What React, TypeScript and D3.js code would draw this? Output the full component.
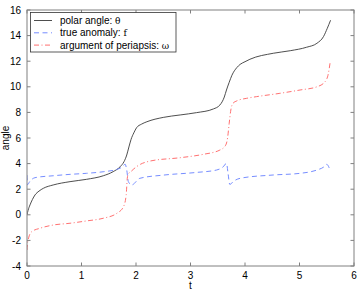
import React from "react";
import * as d3 from "d3";

const xTicks = [0, 1, 2, 3, 4, 5, 6];
const yTicks = [-4, -2, 0, 2, 4, 6, 8, 10, 12, 14, 16];

const tTheta = [0, 0.02, 0.055, 0.1, 0.147, 0.22, 0.3, 0.48, 0.79, 1.09, 1.4, 1.58, 1.71, 1.78, 1.83, 1.87, 1.91, 1.96, 2.01, 2.1, 2.2, 2.5, 2.81, 3.11, 3.42, 3.54, 3.62, 3.66, 3.71, 3.76, 3.85, 3.91, 4.0, 4.09, 4.52, 4.83, 5.13, 5.32, 5.44, 5.51, 5.57];
const theta = [0, 0.35, 0.77, 1.2, 1.55, 1.85, 2.07, 2.33, 2.59, 2.77, 3.05, 3.37, 3.76, 4.15, 4.67, 5.3, 5.9, 6.4, 6.8, 7.08, 7.27, 7.61, 7.8, 7.98, 8.27, 8.58, 9.2, 9.75, 10.35, 10.9, 11.5, 11.75, 11.96, 12.15, 12.62, 12.82, 13.09, 13.4, 13.92, 14.57, 15.2];

const tF = [0, 0.01, 0.05, 0.147, 0.48, 0.79, 1.09, 1.41, 1.65, 1.75, 1.8, 1.83, 1.86, 1.92, 2.07, 2.5, 3.11, 3.48, 3.6, 3.66, 3.69, 3.72, 3.8, 3.91, 4.52, 5.01, 5.32, 5.45, 5.5, 5.56];
const fVals = [3.1, 2.35, 2.6, 2.9, 3.05, 3.16, 3.24, 3.37, 3.55, 3.75, 3.95, 3.5, 2.59, 2.33, 2.85, 3.1, 3.31, 3.5, 3.75, 4.02, 3.2, 2.38, 2.65, 2.85, 3.11, 3.24, 3.5, 3.75, 3.94, 3.5];

const tOmega = [0, 0.01, 0.03, 0.086, 0.24, 0.48, 0.79, 1.09, 1.4, 1.65, 1.77, 1.82, 1.84, 1.86, 1.9, 1.95, 2.01, 2.26, 2.81, 3.23, 3.54, 3.64, 3.68, 3.71, 3.74, 3.78, 3.85, 4.03, 4.21, 4.64, 5.01, 5.32, 5.47, 5.53, 5.56];
const omega = [-2.75, -2.2, -1.8, -1.32, -1.05, -0.8, -0.66, -0.48, -0.27, 0.12, 0.63, 1.55, 2.85, 3.2, 3.35, 3.55, 3.76, 4.2, 4.46, 4.72, 5.06, 5.4, 6.0, 7.15, 8.19, 8.71, 8.9, 9.1, 9.23, 9.49, 9.75, 10.0, 10.4, 11.05, 11.84];

const W = 360;
const H = 292;
const L = 27, R = 354, T = 10, B = 266;

export default function App() {
  const x = d3.scaleLinear().domain([0, 6]).range([L, R]);
  const y = d3.scaleLinear().domain([-4, 16]).range([B, T]);
  const line = d3
    .line<[number, number]>()
    .x((d) => x(d[0]))
    .y((d) => y(d[1]))
    .curve(d3.curveMonotoneX);
  const zip = (a: number[], b: number[]) => a.map((v, i) => [v, b[i]] as [number, number]);
  const font = "'Liberation Sans', Arial, Helvetica, sans-serif";
  const axisColor = "#808080";
  const tl = 3.5;

  const series = [
    { label: "polar angle: ", sym: "θ", d: zip(tTheta, theta), color: "#3a3a3a", dash: "none", w: 0.9 },
    { label: "true anomaly: ", sym: "f", d: zip(tF, fVals), color: "#6680ff", dash: "5,3.5", w: 0.9 },
    { label: "argument of periapsis: ", sym: "ω", d: zip(tOmega, omega), color: "#ff6060", dash: "5,2.5,1,2.5", w: 0.9 },
  ];

  return (
    <svg width={W} height={H} style={{ position: "absolute", left: 0, top: 0, background: "white" }} fontFamily={font}>
      <rect x={0} y={0} width={W} height={H} fill="white" />
      <defs>
        <clipPath id="plotclip">
          <rect x={L} y={T} width={R - L} height={B - T} />
        </clipPath>
      </defs>
      <g clipPath="url(#plotclip)">
        {series.map((s, i) => (
          <path key={i} d={line(s.d) || ""} fill="none" stroke={s.color} strokeWidth={s.w} strokeDasharray={s.dash} />
        ))}
      </g>
      <rect x={L} y={T} width={R - L} height={B - T} fill="none" stroke={axisColor} strokeWidth={1} />
      {xTicks.map((t) => (
        <g key={"x" + t}>
          <line x1={x(t)} x2={x(t)} y1={B} y2={B - tl} stroke={axisColor} strokeWidth={1} />
          <line x1={x(t)} x2={x(t)} y1={T} y2={T + tl} stroke={axisColor} strokeWidth={1} />
          <text x={x(t)} y={278.5} fontSize={10} textAnchor="middle" fill="black">{t}</text>
        </g>
      ))}
      {yTicks.map((t) => (
        <g key={"y" + t}>
          <line x1={L} x2={L + tl} y1={y(t)} y2={y(t)} stroke={axisColor} strokeWidth={1} />
          <line x1={R} x2={R - tl} y1={y(t)} y2={y(t)} stroke={axisColor} strokeWidth={1} />
          <text x={21} y={y(t) + 3.5} fontSize={10} textAnchor="end" fill="black">{t}</text>
        </g>
      ))}
      <text x={(L + R) / 2} y={289} fontSize={10} textAnchor="middle" fill="black">t</text>
      <text transform={`translate(9,${(T + B) / 2}) rotate(-90)`} fontSize={10} textAnchor="middle" fill="black">angle</text>
      <rect x={30.5} y={12.5} width={145.5} height={39.5} fill="white" stroke="#333" strokeWidth={0.8} />
      {series.map((s, i) => {
        const yy = 20.5 + i * 12.3;
        return (
          <g key={"lg" + i}>
            <line x1={34} x2={52} y1={yy} y2={yy} stroke={s.color} strokeWidth={s.w} strokeDasharray={s.dash} />
            <text x={60} y={yy + 3.5} fontSize={10} fill="black">
              {s.label}
              <tspan fontFamily="'DejaVu Serif', serif" fontSize={9}>{s.sym}</tspan>
            </text>
          </g>
        );
      })}
    </svg>
  );
}
